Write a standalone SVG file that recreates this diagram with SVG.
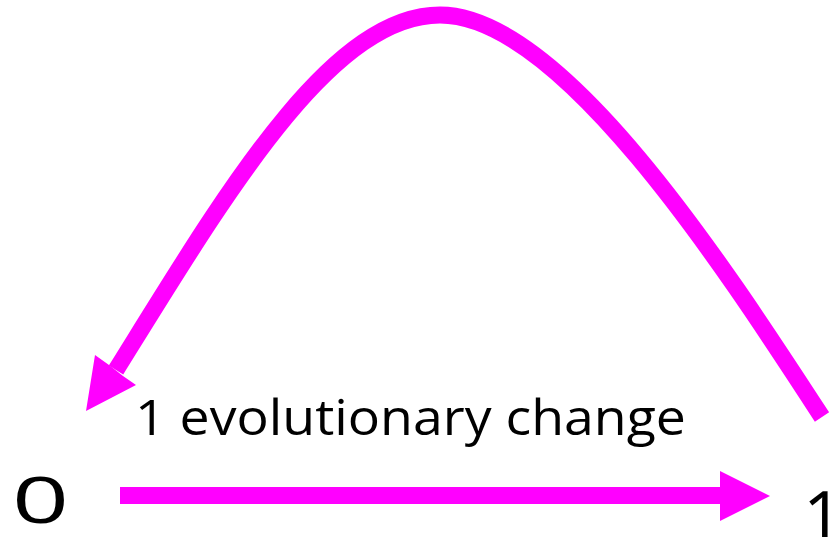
<svg xmlns="http://www.w3.org/2000/svg" width="830" height="537" viewBox="0 0 830 537">
<style>
.edge{fill:none;stroke:#ff00ff;stroke-width:17;stroke-linecap:butt}
.head{fill:#ff00ff;stroke:none}
.lbl{font-family:"Open Sans","DejaVu Sans",sans-serif;fill:#000}
</style>
<rect width="830" height="537" fill="#fff"/>
<g id="connectors">
<g id="edge-0-1">
<path class="edge" d="M120 495.5 H722"/>
<polygon class="head" points="720,471 770,496 720,521"/>
</g>
<g id="edge-1-0">
<path class="edge" d="M822 417 C720 260 560 15 440 15 C330 15 225 195 116 370"/>
<polygon class="head" points="86,411 95,355 109,365 123,376 136,385"/>
</g>
<text class="lbl" x="135" y="435" font-size="50" textLength="551" lengthAdjust="spacingAndGlyphs">1 evolutionary change</text>
</g>
<g id="node-0">
<text class="lbl" x="12" y="523" font-size="64" textLength="57" lengthAdjust="spacingAndGlyphs">0</text>
</g>
<g id="node-1">
<text class="lbl" x="803" y="541" font-size="70">1</text>
</g>
</svg>
